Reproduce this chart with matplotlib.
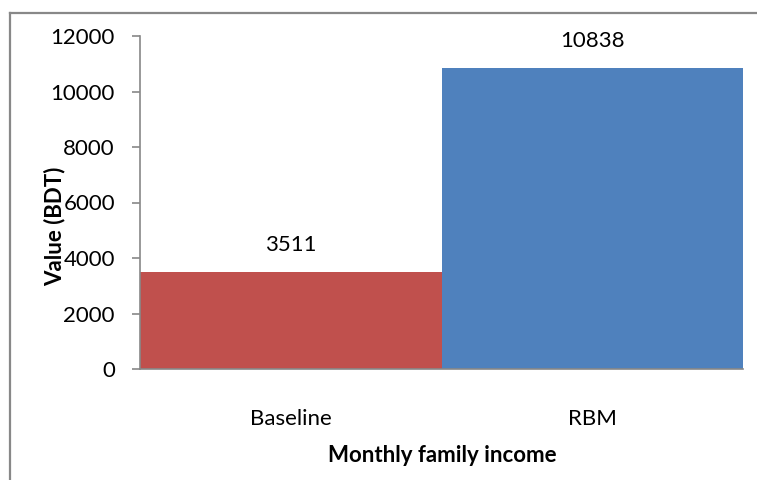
import matplotlib
matplotlib.use("Agg")
import matplotlib.pyplot as plt
from matplotlib.lines import Line2D

categories = ["Baseline", "RBM"]
values = [3511, 10838]
bar_colors = ["#C0504D", "#4F81BD"]
y_ticks = [0, 2000, 4000, 6000, 8000, 10000, 12000]

plt.rcParams["font.family"] = ["Lato", "DejaVu Sans"]

W, H = 757, 480
fig = plt.figure(figsize=(W / 100, H / 100), dpi=100)

# chart frame: top and left edges
frame_x, frame_y = 10 / W, 1 - 13 / H
fig.lines.append(Line2D([frame_x, 1.05], [frame_y, frame_y],
                        transform=fig.transFigure, color="#888888", linewidth=1.6))
fig.lines.append(Line2D([frame_x, frame_x], [-0.05, frame_y],
                        transform=fig.transFigure, color="#888888", linewidth=1.6))

ax = fig.add_axes([140 / W, 1 - 369 / H, (743 - 140) / W, (369 - 36) / H])
x = list(range(len(categories)))
ax.bar(x, values, width=1.0, color=bar_colors)
ax.set_xlim(-0.5, len(categories) - 0.5)
ax.set_ylim(0, 12000)
ax.set_yticks(y_ticks)
ax.set_yticklabels([str(t) for t in y_ticks])
ax.set_xticks(x)
ax.set_xticklabels(categories)

for s in ["top", "right"]:
    ax.spines[s].set_visible(False)
for s in ["left", "bottom"]:
    ax.spines[s].set_color("#888888")
    ax.spines[s].set_linewidth(1.2)

ax.tick_params(axis="y", direction="out", length=6, width=1.2, color="#888888",
               labelsize=16, pad=12)
ax.tick_params(axis="x", length=0, labelsize=16, pad=29)

for xi, v in zip(x, values):
    ax.annotate(str(v), (xi, v), xytext=(0, 27), textcoords="offset pixels",
                ha="center", va="center", fontsize=16)

fig.text(55 / W, 1 - 226 / H, "Value (BDT)", rotation=90, ha="center",
         va="center", fontsize=16, fontweight="bold")
fig.text(442 / W, 1 - 456 / H, "Monthly family income", ha="center",
         va="center", fontsize=16, fontweight="bold")

fig.savefig("out.png", dpi=100)
